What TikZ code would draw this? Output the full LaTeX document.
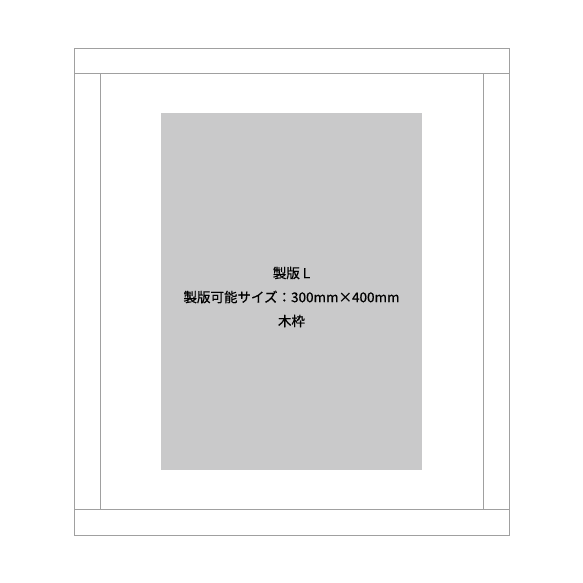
\documentclass[tikz,border=0pt]{standalone}
\usepackage{fontspec}
\newfontfamily\cjk[FakeBold=0.6]{Noto Sans CJK JP}
\definecolor{linegray}{HTML}{A0A0A0}
\definecolor{fillgray}{HTML}{C9C9CA}
\tikzset{frameline/.style={draw=linegray,line width=0.9pt},
  platebox/.style={fill=fillgray,draw=none},
  label/.style={font=\cjk\fontsize{13.5}{16}\selectfont,text=black,inner sep=0pt}}
\begin{document}
\begin{tikzpicture}[x=1pt,y=-1pt]
\useasboundingbox (0,0) rectangle (583,583);
\draw[frameline] (74,48) rectangle (509.5,535);
\draw[frameline] (74,73.5) -- (509.5,73.5);
\draw[frameline] (74,509) -- (509.5,509);
\draw[frameline] (100,73.5) -- (100,509);
\draw[frameline] (483.5,73.5) -- (483.5,509);
\fill[platebox] (161,113) rectangle (422,470);
\node[label] (l1) at (291.5,273) {製版 L};
\node[label] (l2) at (291.5,297) {製版可能サイズ：300mm×400mm};
\node[label] (l3) at (291.5,321) {木枠};
\end{tikzpicture}
\end{document}
